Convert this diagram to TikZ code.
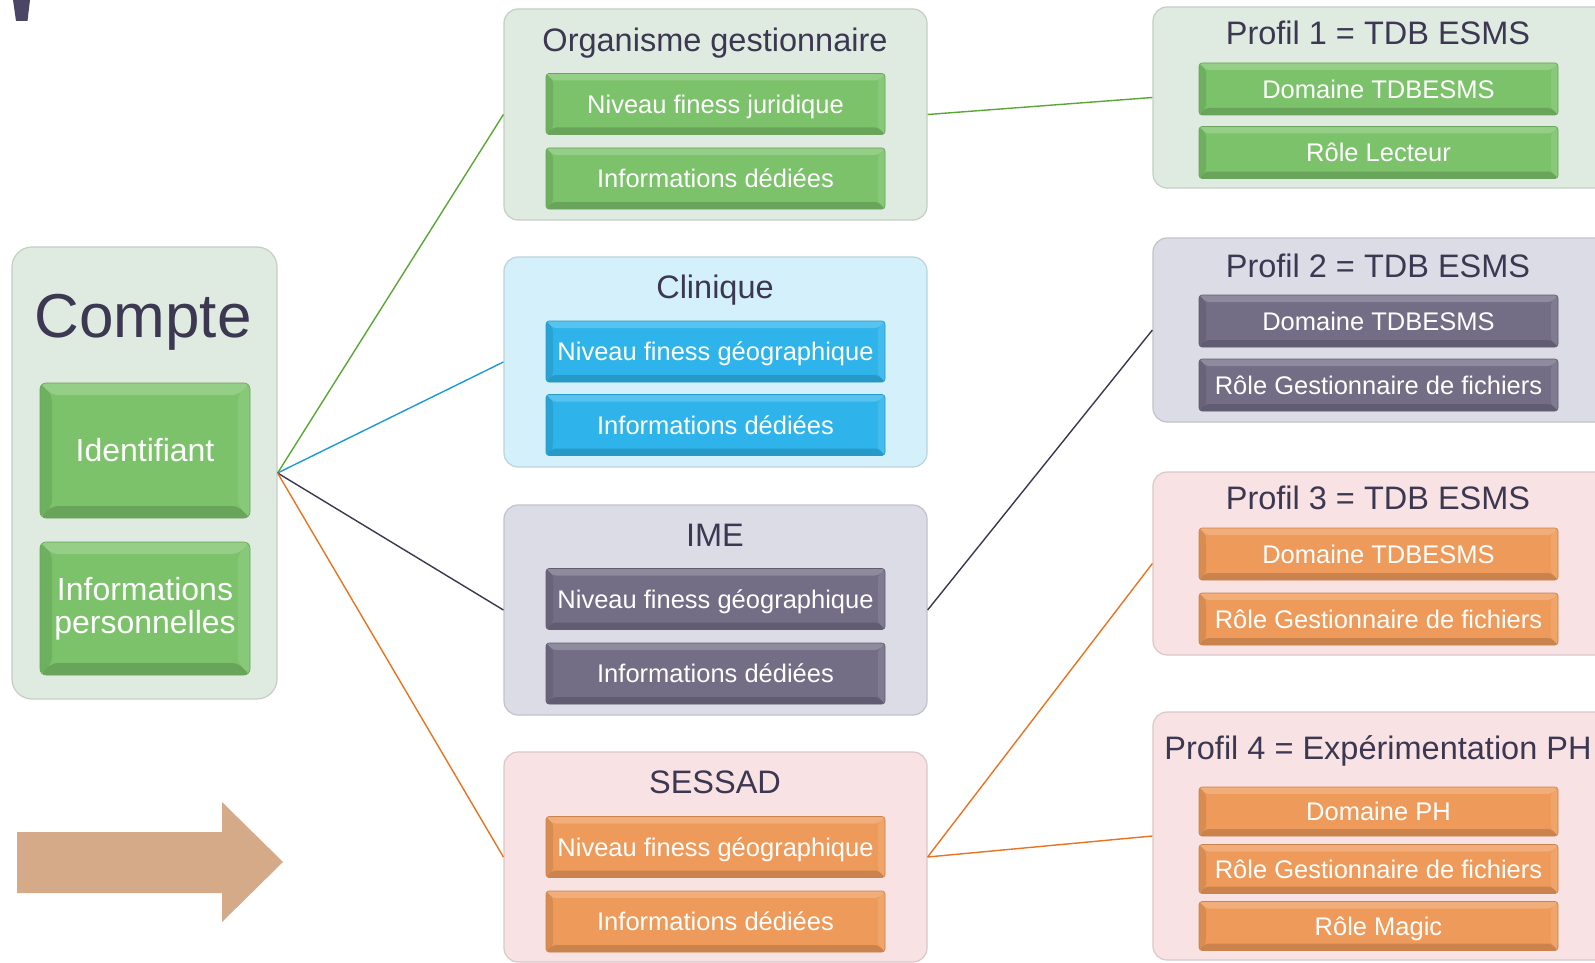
\documentclass[tikz,border=0pt]{standalone}
\usepackage{fontspec}
\setmainfont{Liberation Sans}
\usetikzlibrary{calc}
\definecolor{cGrn}{HTML}{DFEAE0}
\definecolor{cBlu}{HTML}{D4F0FB}
\definecolor{cPur}{HTML}{DCDCE6}
\definecolor{cPnk}{HTML}{F8E2E4}
\definecolor{bGrn}{HTML}{7BC26A}
\definecolor{bBlu}{HTML}{2EB4EA}
\definecolor{bPur}{HTML}{736D85}
\definecolor{bOrg}{HTML}{EE9A5A}
\definecolor{tDark}{HTML}{3C3852}
\definecolor{lGrn}{HTML}{5AA735}
\definecolor{lBlu}{HTML}{1E9AD2}
\definecolor{lDark}{HTML}{3A384E}
\definecolor{lOrg}{HTML}{E8741F}
\definecolor{arrC}{HTML}{D5AA88}
\definecolor{markC}{HTML}{4A4664}
\tikzset{
  bevel/.style={path picture={
    \path (path picture bounding box.north west) coordinate (q1)
          (path picture bounding box.north east) coordinate (q2)
          (path picture bounding box.south east) coordinate (q3)
          (path picture bounding box.south west) coordinate (q4);
    \fill[white,opacity=.20] (q1) -- (q2) -- ($(q2)+(-#1,#1)$) -- ($(q1)+(#1,#1)$) -- cycle;
    \fill[black,opacity=.09] (q1) -- ($(q1)+(#1,#1)$) -- ($(q4)+(#1,-#1)$) -- (q4) -- cycle;
    \fill[white,opacity=.10] (q2) -- (q3) -- ($(q3)+(-#1,-#1)$) -- ($(q2)+(-#1,#1)$) -- cycle;
    \fill[black,opacity=.15] (q4) -- (q3) -- ($(q3)+(-#1,-#1)$) -- ($(q4)+(#1,-#1)$) -- cycle;
  }},
  cont/.style={rounded corners=14pt, fill=#1, draw=#1!88!black, line width=1.2pt, inner sep=0pt},
  btn/.style={rounded corners=3pt, fill=#1, draw=#1!85!black, line width=.6pt, text=white, inner sep=0pt, bevel=7,
    font=\fontsize{25.5}{30}\selectfont, text height=18.26pt, text depth=0pt},
  mbtn/.style={btn=#1, minimum width=339pt, minimum height=61pt},
  rbtn/.style={btn=#1, minimum width=359pt, minimum height=52pt},
  ttl/.style={font=\fontsize{32.5}{36}\selectfont, text=tDark, anchor=base, inner sep=0pt},
  conn/.style={draw=#1, line width=1.4pt},
}
\begin{document}
\begin{tikzpicture}[x=1pt,y=-1pt]
\useasboundingbox (0,0) rectangle (1595,963);
\fill[white] (0,0) rectangle (1595,963);
\clip (0,0) rectangle (1595,963);

% top-left mark
\fill[markC] (13,0) -- (30,0) -- (27.5,21) -- (16,21) -- cycle;

% arrow
\fill[arrC] (17,832) -- (222,832) -- (222,802) -- (283,862) -- (222,922) -- (222,893) -- (17,893) -- cycle;

% Compte
\node[cont=cGrn, rounded corners=20pt, minimum width=265pt, minimum height=452pt] (compte) at (144.5,473) {};
\node[ttl, font=\fontsize{62}{70}\selectfont] (compteT) at (143,337) {Compte};
\node[btn=bGrn, bevel=12, rounded corners=6pt, minimum width=210pt, minimum height=135pt, font=\fontsize{32}{33}\selectfont, text height=22.9pt] (ident) at (145,450.5) {Identifiant};
\node[btn=bGrn, bevel=12, rounded corners=6pt, minimum width=210pt, minimum height=133pt, font=\fontsize{32}{33}\selectfont, text height=, text depth=, align=center] (infop) at (145,608.5) {Informations\\personnelles};

% middle column
\node[cont=cGrn, minimum width=423pt, minimum height=211pt] (org) at (715.5,114.5) {};
\node[ttl] (orgT) at (715,52) {Organisme gestionnaire};
\node[mbtn=bGrn] (org1) at (715.5,104) {Niveau finess juridique};
\node[mbtn=bGrn] (org2) at (715.5,178.5) {Informations dédiées};

\node[cont=cBlu, minimum width=423pt, minimum height=210pt] (clin) at (715.5,362) {};
\node[ttl] (clinT) at (715,298) {Clinique};
\node[mbtn=bBlu] (clin1) at (715.5,351.5) {Niveau finess géographique};
\node[mbtn=bBlu] (clin2) at (715.5,425) {Informations dédiées};

\node[cont=cPur, minimum width=423pt, minimum height=210pt] (ime) at (715.5,610) {};
\node[ttl] (imeT) at (715,546) {IME};
\node[mbtn=bPur] (ime1) at (715.5,599) {Niveau finess géographique};
\node[mbtn=bPur] (ime2) at (715.5,673.5) {Informations dédiées};

\node[cont=cPnk, minimum width=423pt, minimum height=210pt] (sess) at (715.5,857) {};
\node[ttl] (sessT) at (715,793) {SESSAD};
\node[mbtn=bOrg] (sess1) at (715.5,847) {Niveau finess géographique};
\node[mbtn=bOrg] (sess2) at (715.5,921.5) {Informations dédiées};

% right column
\node[cont=cGrn, minimum width=457pt, minimum height=181pt] (p1) at (1381.5,97.5) {};
\node[ttl] (p1T) at (1378,45) {Profil 1 = TDB ESMS};
\node[rbtn=bGrn] (p1a) at (1378.5,89) {Domaine TDBESMS};
\node[rbtn=bGrn] (p1b) at (1378.5,152.5) {Rôle Lecteur};

\node[cont=cPur, minimum width=457pt, minimum height=184pt] (p2) at (1381.5,330) {};
\node[ttl] (p2T) at (1378,277) {Profil 2 = TDB ESMS};
\node[rbtn=bPur] (p2a) at (1378.5,321) {Domaine TDBESMS};
\node[rbtn=bPur] (p2b) at (1378.5,385) {Rôle Gestionnaire de fichiers};

\node[cont=cPnk, minimum width=457pt, minimum height=183pt] (p3) at (1381.5,563.5) {};
\node[ttl] (p3T) at (1378,509) {Profil 3 = TDB ESMS};
\node[rbtn=bOrg] (p3a) at (1378.5,554) {Domaine TDBESMS};
\node[rbtn=bOrg] (p3b) at (1378.5,619) {Rôle Gestionnaire de fichiers};

\node[cont=cPnk, minimum width=457pt, minimum height=248pt] (p4) at (1381.5,836) {};
\node[ttl] (p4T) at (1378,759) {Profil 4 = Expérimentation PH};
\node[rbtn=bOrg, minimum height=49pt] (p4a) at (1378.5,811.5) {Domaine PH};
\node[rbtn=bOrg, minimum height=49pt] (p4b) at (1378.5,869) {Rôle Gestionnaire de fichiers};
\node[rbtn=bOrg, minimum height=49pt] (p4c) at (1378.5,926) {Rôle Magic};

% connectors
\draw[conn=lGrn] (compte.east) -- (org.west);
\draw[conn=lBlu] (compte.east) -- (clin.west);
\draw[conn=lDark] (compte.east) -- (ime.west);
\draw[conn=lOrg] (compte.east) -- (sess.west);
\draw[conn=lGrn] (org.east) -- (p1.west);
\draw[conn=lDark] (ime.east) -- (p2.west);
\draw[conn=lOrg] (sess.east) -- (p3.west);
\draw[conn=lOrg] (sess.east) -- (p4.west);
\end{tikzpicture}
\end{document}
